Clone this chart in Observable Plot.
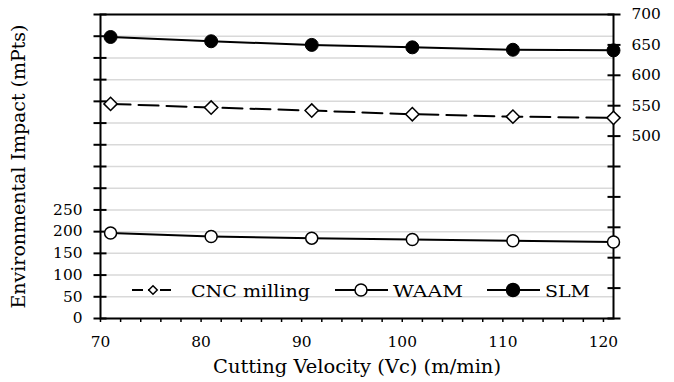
<!DOCTYPE html>
<html>
<head>
<meta charset="utf-8">
<script src="https://cdn.jsdelivr.net/npm/d3@7"></script>
<script src="https://cdn.jsdelivr.net/npm/@observablehq/plot@0.6"></script>
<style>
  body { margin: 0; background: #fff; }
  #chart { position: relative; width: 674px; height: 382px; }
  svg text { font-family: "DejaVu Serif", "Liberation Serif", serif; }
  g[aria-label="x-axis label"] text, g[aria-label="y-axis label"] text { font-size: 18.5px; }
</style>
</head>
<body>
<div id="chart"></div>
<script>
// ---- data ----
const velocity   = [71, 81, 91, 101, 111, 121];          // Cutting Velocity (m/min)
const cncMilling = [553, 547, 542, 536, 532, 530];       // secondary (right) axis, mPts
const waam       = [197, 189, 185, 182, 179, 176];       // primary (left) axis, mPts
const slm        = [663, 656, 650, 646, 642, 641];       // secondary (right) axis, mPts
const seriesNames = ["CNC milling", "WAAM", "SLM"];

const leftTicks       = [0, 50, 100, 150, 200, 250, 300, 350, 400, 450, 500, 550, 600, 650, 700];
const leftLabelTicks  = [0, 50, 100, 150, 200, 250];
const rightTicks      = [200, 250, 300, 350, 400, 450, 500, 550, 600, 650, 700];
const rightLabelTicks = [500, 550, 600, 650, 700];
const xTicks          = [70, 72, 74, 76, 78, 80, 82, 84, 86, 88, 90, 92, 94, 96, 98, 100, 102, 104, 106, 108, 110, 112, 114, 116, 118, 120];
const xLabelTicks     = [70, 80, 90, 100, 110, 120];
const xDomain = [70, 121];
const leftDomain = [0, 700];
const rightDomain = [200, 700];

// map secondary-axis values onto the primary y scale
const toLeft = v => leftDomain[0] + (v - rightDomain[0]) * (leftDomain[1] - leftDomain[0]) / (rightDomain[1] - rightDomain[0]);
const fromLeft = y => Math.round(rightDomain[0] + (y - leftDomain[0]) * (rightDomain[1] - rightDomain[0]) / (leftDomain[1] - leftDomain[0]));

const cncRows  = velocity.map((v, i) => ({v, y: toLeft(cncMilling[i])}));
const waamRows = velocity.map((v, i) => ({v, y: waam[i]}));
const slmRows  = velocity.map((v, i) => ({v, y: toLeft(slm[i])}));

const svg = Plot.plot({
  width: 674,
  height: 382,
  marginLeft: 100,
  marginRight: 61,
  marginTop: 14,
  marginBottom: 64,
  style: {fontFamily: "'DejaVu Serif', serif", fontSize: "15px", color: "#000", background: "#fff"},
  x: {domain: xDomain, nice: false},
  y: {domain: leftDomain, nice: false},
  marks: [
    Plot.gridY({ticks: leftTicks, stroke: "#d9d9d9", strokeOpacity: 1, strokeWidth: 1.5}),
    Plot.frame({stroke: "#000", strokeWidth: 2}),
    // left axis: crossing ticks
    Plot.axisY({anchor: "left", ticks: leftTicks, tickSize: 13, dx: 6.5, tickFormat: () => "", label: null, strokeWidth: 2}),
    // left axis: labels + title
    Plot.axisY({anchor: "left", ticks: leftLabelTicks, tickSize: 0, tickPadding: 18, tickFormat: d => String(d),
                label: "Environmental Impact (mPts)", labelAnchor: "center", labelOffset: 89, labelArrow: "none"}),
    // right axis: crossing ticks
    Plot.axisY({anchor: "right", ticks: rightTicks.map(toLeft), tickSize: 13, dx: -6.5, tickFormat: () => "", label: null, strokeWidth: 2}),
    // right axis: labels
    Plot.axisY({anchor: "right", ticks: rightLabelTicks.map(toLeft), tickSize: 0, tickPadding: 18, tickFormat: d => String(fromLeft(d)), label: null}),
    // x axis
    Plot.axisX({ticks: xTicks, tickSize: 4, tickPadding: 14, strokeWidth: 1.5,
                tickFormat: d => xLabelTicks.includes(d) ? String(d) : "",
                label: "Cutting Velocity (Vc) (m/min)", labelAnchor: "center", labelOffset: 54, labelArrow: "none"}),
    // series
    Plot.line(cncRows,  {x: "v", y: "y", stroke: "#000", strokeWidth: 2, strokeDasharray: "20,8"}),
    Plot.line(waamRows, {x: "v", y: "y", stroke: "#000", strokeWidth: 2}),
    Plot.line(slmRows,  {x: "v", y: "y", stroke: "#000", strokeWidth: 2}),
    Plot.dot(cncRows,  {x: "v", y: "y", symbol: "diamond2", r: 6, fill: "#fff", stroke: "#000", strokeWidth: 1.5}),
    Plot.dot(waamRows, {x: "v", y: "y", r: 6, fill: "#fff", stroke: "#000", strokeWidth: 1.5}),
    Plot.dot(slmRows,  {x: "v", y: "y", r: 6.5, fill: "#000", stroke: "#000", strokeWidth: 1})
  ]
});

document.getElementById("chart").appendChild(svg);

// ---- legend (inside the plot area, near the bottom) ----
const legendItems = [
  {name: seriesNames[0], x0: 132, x1: 171, mx: 153, tx: 191, w: 119, dash: "11,5,9,3", symbol: d3.symbolDiamond2, size: 46, fill: "#fff"},
  {name: seriesNames[1], x0: 335, x1: 388, mx: 361, tx: 393, w: 70, dash: null, symbol: d3.symbolCircle, size: 113, fill: "#fff"},
  {name: seriesNames[2], x0: 487, x1: 540, mx: 513, tx: 545, w: 45, dash: null, symbol: d3.symbolCircle, size: 133, fill: "#000"}
];
const ly = 290;
const lg = d3.select(svg).append("g").attr("aria-label", "legend");
for (const it of legendItems) {
  lg.append("line").attr("x1", it.x0).attr("x2", it.x1).attr("y1", ly).attr("y2", ly)
    .attr("stroke", "#000").attr("stroke-width", 2).attr("stroke-dasharray", it.dash);
  lg.append("path").attr("d", d3.symbol(it.symbol, it.size)())
    .attr("transform", `translate(${it.mx},${ly})`)
    .attr("fill", it.fill).attr("stroke", "#000").attr("stroke-width", 1.5);
  lg.append("text").attr("x", it.tx).attr("y", ly + 6.5)
    .attr("text-anchor", "start")
    .attr("font-size", 17).attr("fill", "#000")
    .attr("textLength", it.w).attr("lengthAdjust", "spacingAndGlyphs")
    .text(it.name);
}

// ---- widen glyphs to match the reference's broad serif lettering ----
function fitTo(sel, target) {
  sel.each(function () {
    const t = typeof target === "function" ? target(this) : target;
    if (t > 0) {
      this.setAttribute("textLength", t);
      this.setAttribute("lengthAdjust", "spacingAndGlyphs");
    }
  });
}
const s = d3.select(svg);
fitTo(s.selectAll('g[aria-label="x-axis tick label"] text, g[aria-label="y-axis tick label"] text'),
      el => el.textContent.length * 9.8);
fitTo(s.selectAll('g[aria-label="x-axis label"] text'), 288);
fitTo(s.selectAll('g[aria-label="y-axis label"] text'), 284);
</script>
</body>
</html>
